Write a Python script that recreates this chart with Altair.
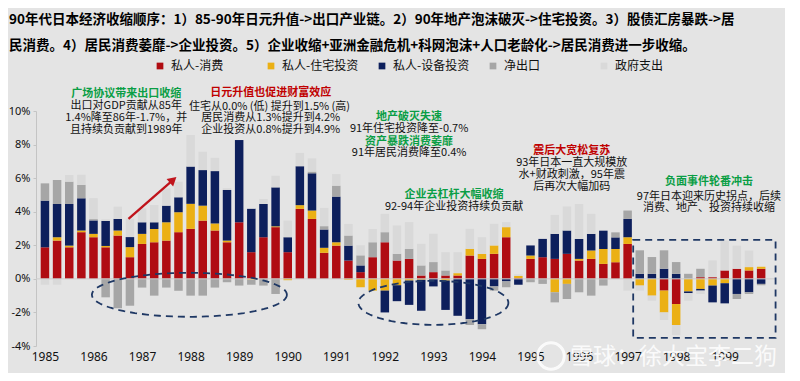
import altair as alt
import pandas as pd
import numpy as np

# ---------------- data (quarterly, 1985Q1 .. 1999Q4), % contribution ----------------
years = list(range(1985, 2000))
series_names = ["私人-消费", "私人-住宅投资", "私人-设备投资", "净出口", "政府支出"]
series_colors = ["#B00C12", "#EBB014", "#0D1F5C", "#A6A6A6", "#D9D9D9"]

consumption = [1.88, 2.28, 1.88, 2.78, 2.48, 1.88, 2.58, 1.29, 2.08, 2.18,
               2.28, 2.78, 2.98, 3.47, 2.88, 2.18, 3.37, 1.59, 2.48, 3.08,
               1.59, 4.17, 3.57, 1.55, 1.98, 1.09, 0.40, 1.29, 2.18, 1.09,
               1.19, 0.20, 0.40, 0.20, 0.20, 1.39, 1.19, 1.49, 2.48, 0.05,
               1.19, 1.29, 1.19, 1.49, 1.09, 1.19, 0.89, 0.99, 2.08, 0.00,
               0.00, -0.70, -1.50, 0.00, 0.10, 0.10, 0.50, 0.60, 0.50, 0.60]
housing = [0.00, 0.20, 0.10, 0.10, 0.20, 0.08, 0.30, 0.60, 0.60, 0.79,
           1.09, 1.19, 1.49, 0.89, 0.42, 0.10, 0.00, -0.05, 0.00, 0.05,
           -0.08, 0.22, 0.50, 0.30, 0.20, -0.05, -0.50, -0.70, -0.70, -0.38,
           -0.10, -0.05, 0.00, -0.10, 0.14, 0.40, 0.30, 0.50, 0.60, 0.12,
           0.20, 0.00, -0.80, -0.30, 0.10, 0.50, 0.89, 0.79, 0.40, -0.40,
           -1.00, -1.30, -1.25, -0.75, -0.60, -0.40, -0.26, 0.00, 0.20, 0.12]
equipment = [2.78, 1.98, 2.48, 1.92, 0.80, 1.49, 0.69, 0.60, 0.69, 0.40,
             0.99, 0.89, 2.22, 2.12, 3.12, 3.02, 4.90, 2.58, 1.98, 2.32,
             0.89, 2.32, 2.22, 1.09, 2.72, 0.89, 0.40, 0.00, -1.30, -0.95,
             -1.45, -1.85, -0.45, -1.75, -2.20, -2.40, -2.70, -0.45, -0.15, -0.35,
             0.60, 1.09, 1.49, 1.39, 1.19, 0.99, 1.09, 0.69, 1.09, 0.30,
             0.30, 0.60, 0.30, -0.10, -0.10, -1.00, -1.20, -0.90, -0.80, -0.30]
net_exports = [1.03, 1.43, 1.33, 0.80, 0.08, -1.10, -1.75, -1.60, -0.52, -1.00,
               -0.52, -0.71, -1.00, -1.00, -0.52, -0.20, -0.40, -0.30, -0.40, -0.90,
               0.00, 0.00, 0.10, 0.20, 0.65, 0.60, 0.60, 0.89, 0.60, 0.40,
               0.60, 0.60, 0.60, 0.30, 0.00, -0.35, -0.30, -0.25, -0.35, 0.00,
               -0.20, -0.30, -0.60, -0.90, -0.80, -1.00, -0.40, 0.30, 0.50, 1.40,
               1.00, 1.10, 0.70, 0.30, 0.50, 0.00, 0.00, -0.30, -0.10, -0.08]
government = [-0.35, -0.35, 0.40, 0.60, 1.25, 0.10, 0.73, 1.10, 0.83, 1.03,
              1.03, 0.93, 1.88, 1.09, 0.79, 0.10, 0.00, 0.00, 0.30, 0.69,
              0.99, 0.79, 0.79, 1.09, 0.69, 0.69, 0.60, 0.79, 1.09, 1.69,
              1.59, 1.29, 1.69, 1.09, 1.25, 1.19, 0.99, 1.29, 0.30, 0.10,
              0.00, 0.00, 1.13, 1.43, 2.08, 1.19, 0.00, 0.00, -0.70, -0.30,
              -0.30, -0.45, -0.60, -0.45, -0.20, 1.00, 1.78, 1.38, 0.99, 0.00]

y_ticks = [-4, -2, 0, 2, 4, 6, 8, 10]

title_lines = [
    "90年代日本经济收缩顺序：1）85-90年日元升值->出口产业链。2）90年地产泡沫破灭->住宅投资。3）股债汇房暴跌->居",
    "民消费。4）居民消费萎靡->企业投资。5）企业收缩+亚洲金融危机+科网泡沫+人口老龄化->居民消费进一步收缩。",
]

# annotation texts: (quarter index, value %, text)
notes_green = [
    (6.7, 11.0, "广场协议带来出口收缩"),
    (30.0, 9.64, "地产破灭失速"),
    (30.0, 8.15, "资产暴跌消费萎靡"),
    (33.7, 5.0, "企业去杠杆大幅收缩"),
    (54.7, 5.77, "负面事件轮番冲击"),
]
notes_red = [
    (18.6, 11.05, "日元升值也促进财富效应"),
    (43.4, 7.62, "震后大宽松复苏"),
]
notes_body = [
    (6.7, 10.28, "出口对GDP贡献从85年"),
    (6.7, 9.58, "1.4%降至86年-1.7%，并"),
    (6.7, 8.87, "且持续负贡献到1989年"),
    (18.5, 10.24, "住宅从0.0% (低) 提升到1.5% (高)"),
    (18.6, 9.58, "居民消费从1.3%提升到4.2%"),
    (18.6, 8.87, "企业投资从0.8%提升到4.9%"),
    (30.0, 8.93, "91年住宅投资降至-0.7%"),
    (30.0, 7.5, "91年居民消费降至0.4%"),
    (33.7, 4.29, "92-94年企业投资持续负贡献"),
    (43.4, 6.9, "93年日本一直大规模放"),
    (43.4, 6.19, "水+财政刺激，95年震"),
    (43.4, 5.48, "后再次大幅加码"),
    (54.7, 4.88, "97年日本迎来历史拐点，后续"),
    (54.7, 4.23, "消费、地产、投资持续收缩"),
]

# ---------------- tables ----------------
rows = []
for s_i, (name, vals) in enumerate(zip(series_names,
                                        [consumption, housing, equipment, net_exports, government])):
    for i, v in enumerate(vals):
        rows.append({"idx": i, "series": name, "ord": s_i, "value": v})
df = pd.DataFrame(rows)

FONT = "Noto Sans CJK SC"
xscale = alt.Scale(domain=[-0.325, 59.73], nice=False, zero=False)
yscale = alt.Scale(domain=[-4, 10], nice=False, zero=False)

xaxis = alt.Axis(values=[4 * k for k in range(15)], labelExpr="1985 + datum.value/4",
                 domain=False, ticks=False, grid=False, title=None,
                 labelFont="Noto Sans", labelFontSize=12, labelColor="#111111", labelPadding=5)
yaxis = alt.Axis(values=y_ticks, labelExpr="datum.value + '%'", grid=False, title=None,
                 domain=True, domainColor="#C4C4C4", ticks=True, tickColor="#C4C4C4",
                 tickSize=3, labelFont="Noto Sans", labelFontSize=11,
                 labelColor="#111111", labelPadding=3)


def X(field):
    return alt.X(field, type="quantitative", scale=xscale, axis=xaxis, title=None)


def Y(field, **kw):
    return alt.Y(field, type="quantitative", scale=yscale, axis=yaxis, title=None, **kw)


zero_line = alt.Chart(pd.DataFrame({"v": [0]})).mark_rule(color="#CDCDCD", strokeWidth=1).encode(
    y=Y("v")
)

bars = alt.Chart(df).mark_bar(size=8.5).encode(
    x=X("idx"),
    y=Y("value", stack="zero"),
    color=alt.Color("series:N", scale=alt.Scale(domain=series_names, range=series_colors),
                    legend=alt.Legend(orient="none", legendX=118, legendY=-51, direction="horizontal",
                                      columns=5, title=None, symbolType="square", symbolSize=45,
                                      symbolStrokeWidth=0, labelFont=FONT, labelFontSize=12,
                                      labelColor="#111111", columnPadding=17, gridAlign="all",
                                      labelOffset=5)),
    order=alt.Order("ord:Q", sort="ascending"),
)


def text_layer(items, color, weight):
    d = pd.DataFrame(items, columns=["x", "y", "t"])
    return alt.Chart(d).mark_text(font=FONT, fontSize=11, fontWeight=weight, color=color,
                                  align="center", baseline="middle").encode(
        x=X("x"), y=Y("y"), text="t:N")


green_txt = text_layer(notes_green, "#0A9E45", "bold")
red_txt = text_layer(notes_red, "#C00000", "bold")
body_txt = text_layer(notes_body, "#111111", "normal")

# arrow (1987 -> 1988)
arrow_line = alt.Chart(pd.DataFrame({"x": [6.88], "y": [3.57], "x2": [10.56], "y2": [5.9]})).mark_rule(
    color="#C0141C", strokeWidth=2.3).encode(x=X("x"), y=Y("y"), x2="x2:Q", y2="y2:Q")
arrow_head = alt.Chart(pd.DataFrame({"x": [10.56], "y": [5.9]})).mark_point(
    shape="triangle-up", size=100, angle=49, filled=True, color="#C0141C", opacity=1).encode(
    x=X("x"), y=Y("y"))


# dashed ellipses and rectangle
def ellipse_path(ratio, n=90):
    pts = []
    for k in range(n):
        t = 2 * np.pi * k / n
        pts.append(f"{np.cos(t):.4f},{ratio * np.sin(t):.4f}")
    return "M" + " L".join(pts) + " Z"


ell1 = alt.Chart(pd.DataFrame({"x": [11.9], "y": [-0.95]})).mark_point(
    shape=ellipse_path(22 / 97.5), size=(2 * 97.5) ** 2, filled=False, color="#1F3864",
    strokeWidth=1.8, strokeDash=[7, 5], opacity=1).encode(x=X("x"), y=Y("y"))
ell2 = alt.Chart(pd.DataFrame({"x": [32.0], "y": [-1.43]})).mark_point(
    shape=ellipse_path(22 / 75.0), size=(2 * 75.0) ** 2, filled=False, color="#1F3864",
    strokeWidth=1.8, strokeDash=[7, 5], opacity=1).encode(x=X("x"), y=Y("y"))
box = alt.Chart(pd.DataFrame({"x": [48.46], "x2": [60.19], "y": [2.32], "y2": [-3.51]})).mark_rect(
    filled=False, color="#1F3864", strokeWidth=1.8, strokeDash=[7, 5]).encode(
    x=X("x"), x2="x2:Q", y=Y("y"), y2="y2:Q")

# title lines (pixel positions relative to plot area)
title1 = alt.Chart(pd.DataFrame({"t": [title_lines[0]]})).mark_text(
    font=FONT, fontSize=13.5, fontWeight="bold", color="#000000", align="left", baseline="middle").encode(
    x=alt.value(-27), y=alt.value(-91), text="t:N")
title2 = alt.Chart(pd.DataFrame({"t": [title_lines[1]]})).mark_text(
    font=FONT, fontSize=13.5, fontWeight="bold", color="#000000", align="left", baseline="middle").encode(
    x=alt.value(-27), y=alt.value(-65), text="t:N")

# watermark
wm_text = alt.Chart(pd.DataFrame({"t": ["雪球：徐大宝李二狗"]})).mark_text(
    font=FONT, fontSize=23, color="#FFFFFF", opacity=0.85, align="left", baseline="middle").encode(
    x=alt.value(534), y=alt.value(246), text="t:N")
wm_logo = alt.Chart(pd.DataFrame({"t": ["o"]})).mark_point(
    shape="circle", size=700, filled=False, color="#FFFFFF", strokeWidth=3, opacity=0.85).encode(
    x=alt.value(515), y=alt.value(245))

chart = alt.layer(
    bars, zero_line, arrow_line, arrow_head, ell1, ell2, box,
    green_txt, red_txt, body_txt, title1, title2, wm_logo, wm_text
).properties(
    width=739, height=235,
    autosize=alt.AutoSizeParams(type="none"),
    padding={"left": 28, "top": 103, "right": 10, "bottom": 27},
).configure(background="#E4E4E4").configure_view(strokeWidth=0)

chart.save("out.html", embed_options={"renderer": "svg", "actions": False})
